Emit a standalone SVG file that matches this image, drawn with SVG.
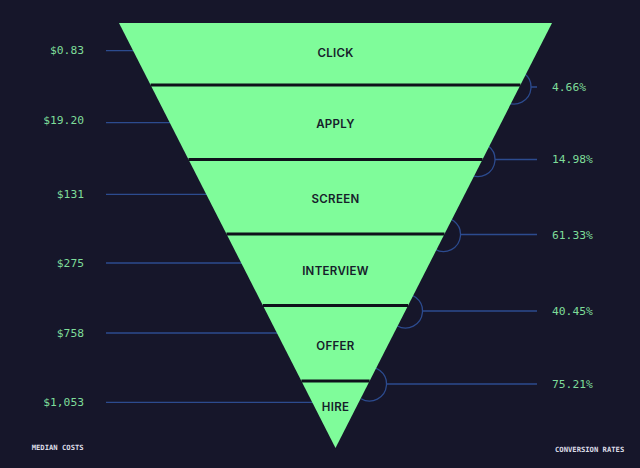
<svg xmlns="http://www.w3.org/2000/svg" width="640" height="468" viewBox="0 0 640 468">
<style>
.bg{fill:#16162a}
.stage{fill:#7ffc9a}
.lbl{font-family:Inter,"Liberation Sans",sans-serif;font-size:11.5px;font-weight:600;letter-spacing:0.3px;fill:#16202a;text-anchor:middle}
.val{font-family:"DejaVu Sans Mono","Liberation Mono",monospace;font-size:11.3px;fill:#7edc99}
.cost{text-anchor:end}
.cap{font-family:"DejaVu Sans Mono","Liberation Mono",monospace;font-size:7.2px;font-weight:bold;fill:#dcdce6}
.lead{fill:none;stroke:#2c4b8f;stroke-width:1.3}
.div{stroke:#0f111b;stroke-width:3;stroke-linecap:butt}
</style>
<rect class="bg" x="0" y="0" width="640" height="468"/>
<g id="connectors">
<line class="lead" x1="106" y1="50.7" x2="335" y2="50.7"/>
<line class="lead" x1="106" y1="122.7" x2="335" y2="122.7"/>
<line class="lead" x1="106" y1="194.3" x2="335" y2="194.3"/>
<line class="lead" x1="106" y1="263" x2="335" y2="263"/>
<line class="lead" x1="106" y1="333" x2="335" y2="333"/>
<line class="lead" x1="106" y1="402.3" x2="335" y2="402.3"/>
<path class="lead" d="M508.2 71 A17 17 0 1 1 505.5 101.7 M531 87 H537"/>
<path class="lead" d="M472.2 143.5 A17 17 0 1 1 469.5 174.2 M495 159.5 H537"/>
<path class="lead" d="M437.7 218.5 A17 17 0 1 1 435 249.2 M460.5 234.5 H537"/>
<path class="lead" d="M399.7 295 A17 17 0 1 1 397 325.7 M422.5 311 H537"/>
<path class="lead" d="M363.7 368 A17 17 0 1 1 361 398.7 M386.5 384 H537"/>
</g>
<g id="click"><polygon class="stage" points="119,23 552,23 520.4,85 150.6,85"/><text class="lbl" x="335.5" y="56.7">CLICK</text></g>
<g id="apply"><polygon class="stage" points="150.6,85 520.4,85 482.5,159.5 188.5,159.5"/><text class="lbl" x="335.5" y="128.2">APPLY</text></g>
<g id="screen"><polygon class="stage" points="188.5,159.5 482.5,159.5 444.5,234 226.5,234"/><text class="lbl" x="335.5" y="202.5">SCREEN</text></g>
<g id="interview"><polygon class="stage" points="226.5,234 444.5,234 408.1,305.5 262.9,305.5"/><text class="lbl" x="335.5" y="274.5">INTERVIEW</text></g>
<g id="offer"><polygon class="stage" points="262.9,305.5 408.1,305.5 369.6,381 301.4,381"/><text class="lbl" x="335.5" y="350.2">OFFER</text></g>
<g id="hire"><polygon class="stage" points="301.4,381 369.6,381 335.5,448"/><text class="lbl" x="335.5" y="411.2">HIRE</text></g>
<g id="dividers">
<line class="div" x1="150.6" y1="85" x2="520.4" y2="85"/>
<line class="div" x1="188.5" y1="159.5" x2="482.5" y2="159.5"/>
<line class="div" x1="226.5" y1="234" x2="444.5" y2="234"/>
<line class="div" x1="262.9" y1="305.5" x2="408.1" y2="305.5"/>
<line class="div" x1="301.4" y1="381" x2="369.6" y2="381"/>
</g>
<g id="costs">
<text class="val cost" x="84" y="54.2">$0.83</text>
<text class="val cost" x="84" y="124.2">$19.20</text>
<text class="val cost" x="84" y="197.5">$131</text>
<text class="val cost" x="84" y="266.5">$275</text>
<text class="val cost" x="84" y="336.5">$758</text>
<text class="val cost" x="84" y="405.5">$1,053</text>
</g>
<g id="rates">
<text class="val" x="552" y="91.3">4.66%</text>
<text class="val" x="552" y="163">14.98%</text>
<text class="val" x="552" y="238.5">61.33%</text>
<text class="val" x="552" y="315.3">40.45%</text>
<text class="val" x="552" y="388">75.21%</text>
</g>
<text class="cap" x="31.7" y="449.6">MEDIAN COSTS</text>
<text class="cap" x="555" y="451.9">CONVERSION RATES</text>
</svg>
